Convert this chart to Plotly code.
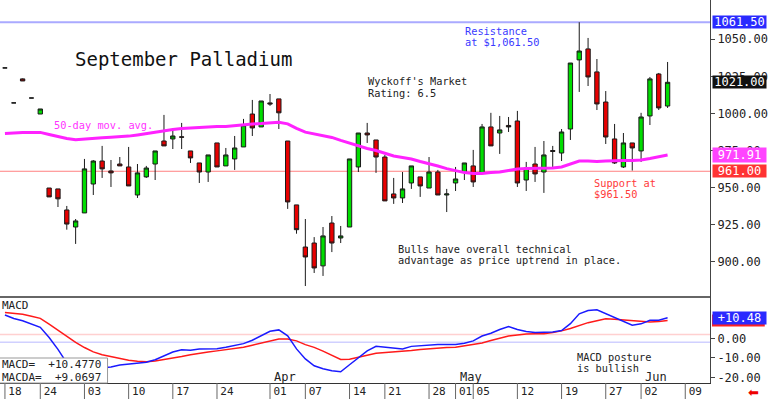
import plotly.graph_objects as go

# ---------------- data ----------------
opens = [1030.7, 1007.1, 1023.3, 1010.4, 999.6, 949.7, 949.1, 934.9, 923.4, 932.9,
         952.4, 967.9, 961.2, 965.9, 963.9, 945.0, 957.2, 965.9, 981.4, 982.8,
         984.2, 974.7, 966.6, 960.5, 980.1, 964.6, 969.3, 977.4, 999.6, 990.9,
         1007.1, 1009.8, 981.4, 938.3, 909.9, 912.6, 897.2, 926.1, 916.0, 923.4,
         963.9, 986.8, 982.1, 970.6, 945.7, 943.0, 953.1, 957.2, 949.7, 960.5,
         945.0, 953.1, 960.5, 964.6, 959.9, 990.9, 986.8, 991.9, 994.9, 955.1,
         965.9, 960.5, 975.0, 973.3, 989.5, 1036.1, 1043.5, 1028.0, 1007.7, 982.8,
         963.9, 980.1, 974.7, 998.3, 1026.6, 1005.0]
highs = [1030.7, 1007.1, 1023.6, 1010.4, 1003.0, 949.7, 949.1, 937.6, 928.8, 969.3,
         968.5, 978.1, 968.6, 970.6, 977.4, 965.9, 964.6, 974.7, 999.0, 988.9,
         993.6, 974.7, 966.6, 972.0, 980.1, 976.7, 984.8, 996.3, 1009.1, 1008.4,
         1013.1, 1009.8, 981.4, 938.3, 928.8, 916.6, 923.4, 930.8, 924.1, 969.3,
         986.8, 993.6, 982.1, 972.0, 956.5, 960.5, 964.6, 957.2, 970.6, 961.9,
         949.1, 963.9, 966.6, 975.4, 992.9, 1000.4, 998.3, 997.6, 1001.7, 967.3,
         977.4, 981.4, 978.1, 989.5, 1034.0, 1061.5, 1050.9, 1036.7, 1015.1, 992.9,
         986.8, 980.1, 1000.4, 1024.6, 1027.3, 1034.7]
lows = [1030.7, 1007.1, 1021.9, 1010.4, 999.6, 943.7, 936.9, 921.6, 912.0, 932.9,
        945.0, 956.5, 950.4, 964.6, 951.1, 943.0, 956.5, 955.1, 978.1, 976.0,
        976.0, 966.6, 953.1, 953.8, 963.9, 964.6, 961.9, 977.4, 984.8, 990.9,
        1005.1, 989.5, 935.6, 918.9, 883.6, 892.4, 890.4, 906.5, 912.6, 923.4,
        960.5, 980.1, 959.9, 941.0, 939.0, 939.6, 949.1, 943.7, 949.7, 945.0,
        933.5, 947.7, 955.1, 950.4, 959.9, 978.1, 972.7, 987.5, 950.4, 947.7,
        953.8, 946.4, 963.9, 967.9, 982.1, 1014.5, 1018.5, 1002.3, 979.4, 965.9,
        963.2, 961.5, 967.3, 992.2, 1002.3, 1003.7]
closes = [1030.7, 1007.1, 1021.9, 1010.4, 1003.0, 943.7, 942.4, 925.4, 927.5, 962.6,
          967.9, 962.6, 959.9, 964.6, 951.1, 959.9, 963.2, 974.7, 978.1, 984.8,
          984.0, 970.0, 960.5, 972.0, 963.9, 972.0, 976.7, 992.2, 990.2, 1008.4,
          1006.4, 1000.4, 940.3, 921.6, 903.2, 895.8, 917.4, 912.6, 917.4, 969.3,
          986.8, 985.5, 970.6, 941.0, 943.0, 949.1, 964.6, 951.1, 960.5, 945.0,
          945.7, 955.8, 966.6, 953.8, 990.9, 978.1, 988.9, 990.9, 953.1, 963.2,
          959.2, 972.0, 974.4, 987.5, 1034.0, 1042.1, 1024.6, 1006.4, 984.1, 966.6,
          980.1, 976.7, 997.6, 1023.3, 1003.7, 1021.0]
ma50 = [986.5, 987.0, 987.1, 987.2, 987.2, 985.8, 984.3, 983.1, 982.2, 982.8,
        983.4, 983.6, 984.0, 984.3, 984.7, 985.5, 986.5, 987.5, 988.5, 989.2,
        989.9, 990.3, 990.9, 991.2, 991.2, 991.2, 991.9, 992.6, 992.9, 993.2,
        993.7, 994.1, 993.0, 989.9, 987.4, 986.1, 985.1, 983.8, 981.8, 980.0,
        978.0, 976.4, 975.0, 973.2, 971.3, 970.3, 969.3, 967.6, 966.2, 964.5,
        962.8, 961.5, 960.1, 959.5, 959.5, 960.1, 960.5, 961.5, 962.5, 962.8,
        962.8, 962.8, 963.2, 963.9, 965.9, 967.9, 967.9, 967.6, 967.9, 968.2,
        968.2, 968.2, 968.6, 969.6, 970.9, 971.91]
macd = [11.9, 10.1, 9.0, 7.4, 5.6, 0.4, -5.6, -12.5, -14.5, -15.2,
        -15.3, -15.0, -14.6, -13.6, -13.1, -12.8, -12.2, -10.9, -9.0, -7.0,
        -5.8, -6.1, -5.5, -5.5, -5.3, -4.6, -3.6, -2.7, -1.0, 1.5,
        3.6, 4.3, 1.3, -5.4, -10.5, -14.0, -15.5, -16.5, -17.1, -13.5,
        -9.8, -6.4, -4.1, -4.5, -5.2, -5.4, -4.1, -3.8, -3.6, -3.1,
        -3.2, -3.2, -2.5, -1.3, 1.2, 2.6, 4.5, 6.0, 4.5, 3.5,
        3.0, 3.0, 3.2, 4.0, 7.5, 12.5, 14.2, 14.6, 12.6, 10.3,
        8.6, 6.7, 7.4, 9.2, 9.2, 10.477]
macda = [13.2, 12.9, 12.3, 11.3, 10.2, 7.2, 4.0, 0.8, -2.1, -4.7,
         -6.9, -8.4, -9.4, -10.4, -11.2, -11.7, -11.9, -11.6, -10.9, -10.1,
         -9.3, -8.4, -7.6, -7.0, -6.4, -5.8, -5.3, -4.5, -3.5, -2.4,
         -1.3, -0.4, -0.3, -1.3, -3.2, -4.6, -6.5, -8.8, -10.8, -10.7,
         -9.8, -8.6, -7.6, -7.3, -7.0, -6.7, -6.2, -5.7, -5.3, -5.0,
         -4.7, -4.5, -3.9, -3.3, -2.4, -1.1, 0.1, 1.2, 1.7, 2.2,
         2.3, 2.4, 3.0, 3.8, 5.0, 6.6, 8.0, 9.0, 10.0, 9.7,
         9.3, 8.9, 8.6, 8.3, 8.6, 9.0697]

tick_idx = [0, 4, 9, 14, 19, 24, 30, 34, 39, 43, 48, 51, 53, 58, 63, 68, 72, 77]
tick_text = ["18", "24", "03", "10", "17", "24", "01", "07", "14", "21", "28",
             "01", "05", "12", "19", "27", "02", "09"]
month_idx = [30, 51, 72]
month_text = ["Apr", "May", "Jun"]
price_ticks = [900, 925, 950, 975, 1000, 1025, 1050]
macd_ticks = [-20, -10, 0]
macd_bands = [2, -2]
resistance = 1061.50
support = 961.00
macd_now = 10.4770
macda_now = 9.0697

# ---------------- layout helpers ----------------
W, H = 713, 383
MONO = "DejaVu Sans Mono"
SPLIT = 86 / H


def px(x):
    return x / W


def py(y):
    return (H - y) / H


idx = list(range(len(closes)))

fig = go.Figure()
fig.add_trace(go.Candlestick(
    x=idx, open=opens, high=highs, low=lows, close=closes,
    increasing=dict(line=dict(color="#1a1a1a", width=1), fillcolor="#00dd00"),
    decreasing=dict(line=dict(color="#1a1a1a", width=1), fillcolor="#e80000"),
    whiskerwidth=0, xaxis="x", yaxis="y", showlegend=False, hoverinfo="skip"))
fig.add_trace(go.Scatter(x=idx, y=ma50, mode="lines", xaxis="x", yaxis="y",
                         line=dict(color="#ff22ff", width=3), showlegend=False))
fig.add_trace(go.Scatter(x=idx, y=macda, mode="lines", xaxis="x", yaxis="y2",
                         line=dict(color="#ff1a1a", width=1.5), showlegend=False))
fig.add_trace(go.Scatter(x=idx, y=macd, mode="lines", xaxis="x", yaxis="y2",
                         line=dict(color="#1a1aff", width=1.5), showlegend=False))

shapes = []
band_colors = ["#ffd0d0", "#d0d0ff"]
for b, c in zip(macd_bands, band_colors):
    shapes.append(dict(type="line", xref="paper", x0=0, x1=1, yref="y2", y0=b, y1=b,
                       line=dict(color=c, width=1.5), layer="below"))
shapes.append(dict(type="line", xref="paper", x0=0, x1=1, yref="y", y0=resistance, y1=resistance,
                   line=dict(color="#aaaaff", width=2), layer="below"))
shapes.append(dict(type="line", xref="paper", x0=0, x1=1, yref="y", y0=support, y1=support,
                   line=dict(color="#ff8080", width=1), layer="below"))
shapes.append(dict(type="line", xref="paper", x0=0, x1=1, yref="paper", y0=SPLIT, y1=SPLIT,
                   line=dict(color="#333333", width=1.5)))
for t in tick_idx:
    shapes.append(dict(type="line", xref="x", x0=t, x1=t, yref="paper", y0=-16 / H, y1=0,
                       line=dict(color="#666666", width=1)))
# MACD readout box
shapes.append(dict(type="rect", xref="paper", x0=-0.01, x1=px(108), yref="paper", y0=0, y1=py(358),
                   line=dict(color="#999999", width=1), fillcolor="white"))
# signal-line value marker on the right scale (mostly covered by the MACD tag)
shapes.append(dict(type="rect", xref="paper", x0=1 + 2 / W, x1=1 + 55 / W, yref="y2",
                   ysizemode="pixel", yanchor=macda[-1], y0=-6, y1=6,
                   line=dict(width=0), fillcolor="#ff2222"))

ann = []


def txt(x, y, s, color="#222222", size=10.3, xanchor="left"):
    ann.append(dict(xref="paper", yref="paper", x=px(x), y=py(y), text=s, showarrow=False,
                    xanchor=xanchor, yanchor="middle",
                    font=dict(family=MONO, size=size, color=color)))


txt(73, 59, "September Palladium", "#111111", 19)
txt(52, 125, "50-day mov. avg.", "#ff33ff", 10.3)
txt(368, 81, "Wyckoff's Market")
txt(368, 93, "Rating: 6.5")
txt(465, 31, "Resistance", "#3a3aff")
txt(465, 42, "at $1,061.50", "#3a3aff")
txt(595, 183, "Support at", "#ff3a3a")
txt(595, 194, "$961.50", "#ff3a3a")
txt(398, 249, "Bulls have overall technical")
txt(398, 260, "advantage as price uptrend in place.")
txt(0, 305, "MACD", "#222222", 11)
txt(577, 357, "MACD posture")
txt(577, 368, "is bullish")
txt(0, 364, "MACD=  %+.4f" % macd_now, "#222222", 11)
txt(0, 377, "MACDA=  %+.4f" % macda_now, "#222222", 11)
for m, mt in zip(month_idx, month_text):
    ann.append(dict(xref="x", yref="paper", x=m, y=py(377), text=mt, showarrow=False,
                    xanchor="left", yanchor="middle", xshift=2,
                    font=dict(family=MONO, size=12, color="#222222")))


def tag(yref, yval, s, bg, fg="white", h=12):
    ann.append(dict(xref="paper", x=1, xanchor="left", xshift=2, yref=yref, y=yval,
                    yanchor="middle", text=s, showarrow=False, bgcolor=bg, width=53, height=h,
                    borderpad=0, align="center", font=dict(family=MONO, size=12, color=fg)))


tag("y", resistance, "%.2f" % resistance, "#2a2aff")
tag("y", closes[-1], "%.2f" % closes[-1], "#111111")
tag("y", ma50[-1], "%.2f" % ma50[-1], "#ff44ff", h=14)
tag("y", support, "%.2f" % support, "#ff3333")
tag("y2", macd[-1], "%+.2f" % macd[-1], "#2a2aff")

ann.append(dict(xref="paper", yref="paper", x=px(757), y=py(392), text="⬅", showarrow=False,
                xanchor="center", yanchor="middle", font=dict(family="DejaVu Sans", size=13, color="#ee0000")))

fig.update_layout(
    width=768, height=399,
    margin=dict(l=0, r=55, t=0, b=16, pad=0),
    paper_bgcolor="white", plot_bgcolor="white", showlegend=False,
    shapes=shapes, annotations=ann,
    xaxis=dict(range=[-0.56, 79.8], anchor="y2", tickvals=tick_idx, ticktext=tick_text,
               ticks="", showline=True, linecolor="#333333", linewidth=1, showgrid=False,
               zeroline=False, rangeslider=dict(visible=False), ticklabelshift=10,
               ticklabelstandoff=-2,
               tickfont=dict(family=MONO, size=11, color="#222222")),
    yaxis=dict(domain=[SPLIT, 1], range=[876.2, 1076.5], side="right", anchor="x",
               tickvals=price_ticks, ticktext=["%.2f" % v for v in price_ticks],
               ticks="outside", ticklen=4, tickcolor="#444444", showline=True,
               linecolor="#444444", showgrid=False, zeroline=False,
               tickfont=dict(family=MONO, size=12, color="#222222")),
    yaxis2=dict(domain=[0, SPLIT], range=[-22.8, 21.1], side="right", anchor="x",
                tickvals=macd_ticks, ticktext=["%.2f" % v for v in macd_ticks],
                ticks="outside", ticklen=4, tickcolor="#444444", showline=True,
                linecolor="#444444", showgrid=False, zeroline=False,
                tickfont=dict(family=MONO, size=12, color="#222222")),
)

fig.write_html("out.html", config={"displayModeBar": False},
               post_script="document.body.style.margin='0';document.body.style.padding='0';"
                           "document.body.style.overflow='hidden';")
